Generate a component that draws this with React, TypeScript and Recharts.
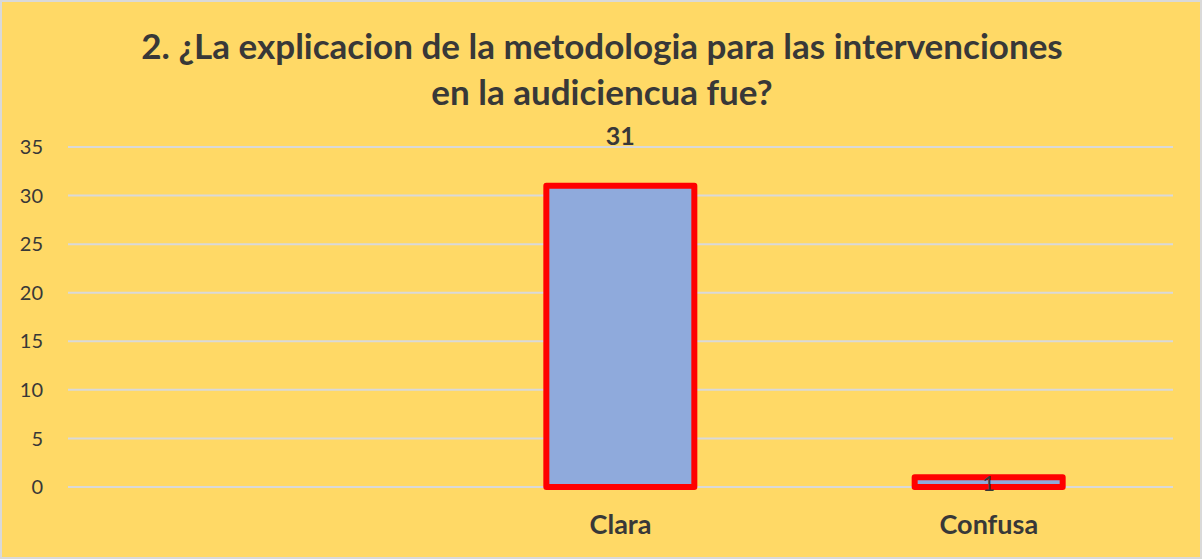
import { BarChart, Bar, XAxis, YAxis, CartesianGrid, LabelList } from 'recharts'

const categories = ['', 'Clara', 'Confusa']
const respuestas = [null, 31, 1]
const yTicks = [0, 5, 10, 15, 20, 25, 30, 35]
const titleLines = [
  '2. ¿La explicacion de la metodologia para las intervenciones',
  'en la audiciencua fue?',
]

const data = categories.map((c, i) => ({ name: c, value: respuestas[i] }))

const FONT = 'Lato, "Open Sans", sans-serif'
const TEXT = '#383838'

function ValueLabel(props: any) {
  const { x, y, width, height, value } = props
  if (value == null) return null
  const cx = x + width / 2
  // Excel puts the big one well above the bar, the small one sits on the bar
  if (value > 5) {
    return (
      <text x={cx} y={y - 41} textAnchor="middle" fill={TEXT} fontSize={25} fontWeight={700} fontFamily={FONT}>
        {value}
      </text>
    )
  }
  return (
    <text x={cx} y={y + height + 4} textAnchor="middle" fill={TEXT} fontSize={22} fontFamily={FONT}>
      {value}
    </text>
  )
}

export default function App() {
  return (
    <div style={{ position: 'absolute', left: 0, top: 0, width: 1202, height: 559, background: '#FFD966', boxSizing: 'border-box', border: '2px solid #d9d9d9' }}>
      <div style={{ position: 'absolute', left: -2, top: -2 }}>
        <BarChart width={1202} height={559} data={data} margin={{ top: 147, right: 29, bottom: 0, left: 0 }}>
          <CartesianGrid vertical={false} stroke="#d9d9d9" strokeWidth={2} />
          <XAxis dataKey="name" axisLine={false} tickLine={false} height={72} tickMargin={22} interval={0}
            tick={{ fill: TEXT, fontSize: 27, fontWeight: 700, fontFamily: FONT }} />
          <YAxis domain={[0, 35]} ticks={yTicks} width={68} axisLine={false} tickLine={false} tickMargin={19}
            tick={{ fill: TEXT, fontSize: 20, fontFamily: FONT }} />
          <Bar dataKey="value" barSize={148} fill="#8FAADC" stroke="#FF0000" strokeWidth={6}
            strokeLinejoin="round" isAnimationActive={false}>
            <LabelList dataKey="value" content={ValueLabel} />
          </Bar>
        </BarChart>
      </div>
      <svg width={1202} height={120} style={{ position: 'absolute', left: -2, top: -2 }}>
        {titleLines.map((t, i) => (
          <text key={t} x={602} y={59 + i * 46} textAnchor="middle" fill={TEXT}
            fontSize={35} fontWeight={700} fontFamily={FONT}>{t}</text>
        ))}
      </svg>
    </div>
  )
}
